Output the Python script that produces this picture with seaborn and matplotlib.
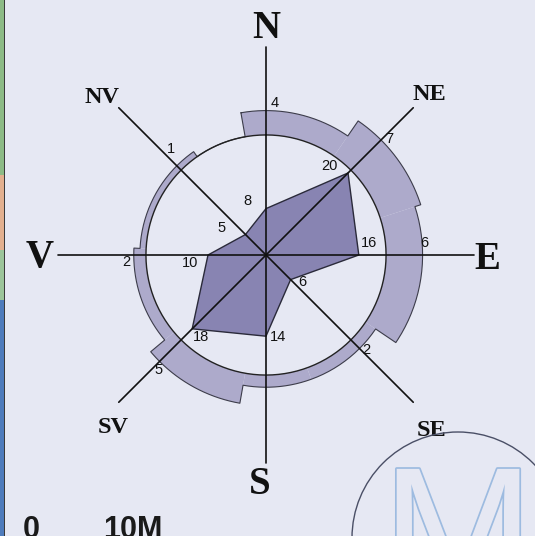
import numpy as np
import matplotlib
matplotlib.use("Agg")
import matplotlib.pyplot as plt
import matplotlib.patheffects as pe
from matplotlib.patches import Ellipse, Rectangle
import seaborn as sns

# wind rose data (Romanian compass labels)
directions = ["N", "NE", "E", "SE", "S", "SV", "V", "NV"]
bearings = [0, 45, 90, 135, 180, 225, 270, 315]
wind_values = [8, 20, 16, 6, 14, 18, 10, 5]

# outer ring: values and the sector each one covers (bearing, degrees)
band_values = [4, 7, 6, 2, 2, 5, 2, 1]
band_labels = ["4", "7", "6", "2", "", "5", "2", "1"]
band_start = [-10, 34.5, 72, 124, 160, 190, 230, 273]
band_end = [34.5, 72, 124, 160, 190, 230, 273, 325]

scale_labels = ["0", "10M"]

# styling
BG = "#e6e8f3"
POLY = "#8884b2"
BAND = "#adaacb"
EDGE = "#3c3c4a"
CIRCLE_R = 20.7
BAND_SCALE = 1.05
AXIS_LEN = 35.9
R_MAX = 44
PX_PER_UNIT = 5.8
W, H = 535, 536
CX, CY = 266, 255

poly_offsets = [(-13.5, 5.5), (-13.5, 5), (7.5, 8.5), (8.5, -1.5),
                (8.5, -0.7), (6, -6), (-13, -5.5), (-17.5, 4.5)]
band_offsets = [(6, 5.5), (6, 0.7), (1.5, 8.4), (5, -1.4),
                (0, 0), (-0.5, -6.5), (-5.4, -4.8), (-4.3, 12)]
dir_pos = [(0, 39.8), (45.2, 39.8), (90, 38.1), (136.2, 41.3),
           (181.5, 38.8), (222, 39.4), (270.5, 39.0), (314.3, 39.5)]
dir_size = [28, 17.5, 28, 17.5, 28, 17.5, 28, 17.5]

sns.set_theme(style="white")
plt.rcParams["font.family"] = ["Liberation Sans", "DejaVu Sans"]

fig = plt.figure(figsize=(W / 100, H / 100), dpi=100)
fig.patch.set_facecolor(BG)

rad_px = R_MAX * PX_PER_UNIT
ax = fig.add_axes([(CX - rad_px) / W, (H - CY - rad_px) / H, 2 * rad_px / W, 2 * rad_px / H],
                  projection="polar")
ax.set_theta_zero_location("N")
ax.set_theta_direction(-1)
ax.set_ylim(0, R_MAX)
ax.set_axis_off()

# outer ring sectors (fill only, outline drawn as one stepped line)
t0 = np.deg2rad(band_start)
t1 = np.deg2rad(band_end)
outer = CIRCLE_R + np.array(band_values) * BAND_SCALE
ax.bar((t0 + t1) / 2, outer - CIRCLE_R, width=t1 - t0, bottom=CIRCLE_R,
       color=BAND, edgecolor="none", linewidth=0, zorder=1)

out_t, out_r = [], []
for i in range(len(band_values)):
    seg = np.linspace(band_start[i], band_end[i], 40)
    out_t.extend(seg)
    out_r.extend([outer[i]] * len(seg))
    nxt = band_start[(i + 1) % len(band_values)] % 360
    if abs(band_end[i] % 360 - nxt) > 0.1:
        gap = np.linspace(band_end[i], nxt if nxt > band_end[i] else nxt + 360, 40)
        out_t.extend(gap)
        out_r.extend([CIRCLE_R] * len(gap))
out_t.append(out_t[0])
out_r.append(out_r[0])
ax.plot(np.deg2rad(out_t), out_r, color=EDGE, lw=0.8, zorder=2)

# reference circle
circ_t = np.linspace(0, 2 * np.pi, 361)
ax.plot(circ_t, np.full_like(circ_t, CIRCLE_R), color="#222222", lw=1.0, zorder=2)

# frequency polygon
th = np.deg2rad(bearings + bearings[:1])
rr = wind_values + wind_values[:1]
ax.fill(th, rr, facecolor=POLY, edgecolor="#2a2a3a", linewidth=1.0, zorder=3)

# compass axes
for b in bearings:
    ax.plot([np.deg2rad(b)] * 2, [0, AXIS_LEN], color="#111111", lw=1.2, zorder=4)

# labels on polygon vertices
for b, v, off in zip(bearings, wind_values, poly_offsets):
    ax.annotate(str(v), xy=(np.deg2rad(b), v), xytext=off, textcoords="offset points",
                ha="center", va="center", fontsize=10.5, color="#111111", zorder=6)

# labels on the ring
for b, v, lab, off in zip(bearings, band_values, band_labels, band_offsets):
    if lab:
        ax.annotate(lab, xy=(np.deg2rad(b), CIRCLE_R + v * BAND_SCALE), xytext=off,
                    textcoords="offset points", ha="center", va="center",
                    fontsize=10.5, color="#111111", zorder=6)

# compass direction names
for name, (ang, rad), fs in zip(directions, dir_pos, dir_size):
    ax.text(np.deg2rad(ang), rad, name, ha="center", va="center_baseline", fontsize=fs,
            fontweight="bold", family=["Liberation Serif", "DejaVu Serif"], color="#111111")

# scale text at the bottom left
fig.text(31 / W, 1 - 515 / H, scale_labels[0], ha="center", va="top", fontsize=22,
         fontweight="bold", color="#1a1a1a")
fig.text(103 / W, 1 - 515 / H, scale_labels[1], ha="left", va="top", fontsize=22,
         fontweight="bold", color="#1a1a1a")

# watermark logo at the bottom right
fig.patches.append(Ellipse((458 / W, 1 - 538 / H), 2 * 106 / W, 2 * 106 / H,
                           transform=fig.transFigure, fill=False, edgecolor="#4a4f66", lw=1.0))
fig.text(458 / W, 1 - 462 / H, "M", ha="center", va="top", fontsize=132, color=BG,
         path_effects=[pe.Stroke(linewidth=2.5, foreground="#9dbbe0"), pe.Normal()])

# coloured strip on the left edge
strip = [(0, 175, "#8dbb86"), (175, 250, "#e3b08f"), (250, 300, "#9cc59a"), (300, 536, "#4f7cbc")]
for y0, y1, c in strip:
    fig.patches.append(Rectangle((0, 1 - y1 / H), 4 / W, (y1 - y0) / H,
                                 transform=fig.transFigure, color=c, lw=0))
fig.patches.append(Rectangle((4 / W, 0), 1.2 / W, 1, transform=fig.transFigure,
                             color="#3a3a3a", lw=0))

fig.savefig("out.png", dpi=100, facecolor=BG)
